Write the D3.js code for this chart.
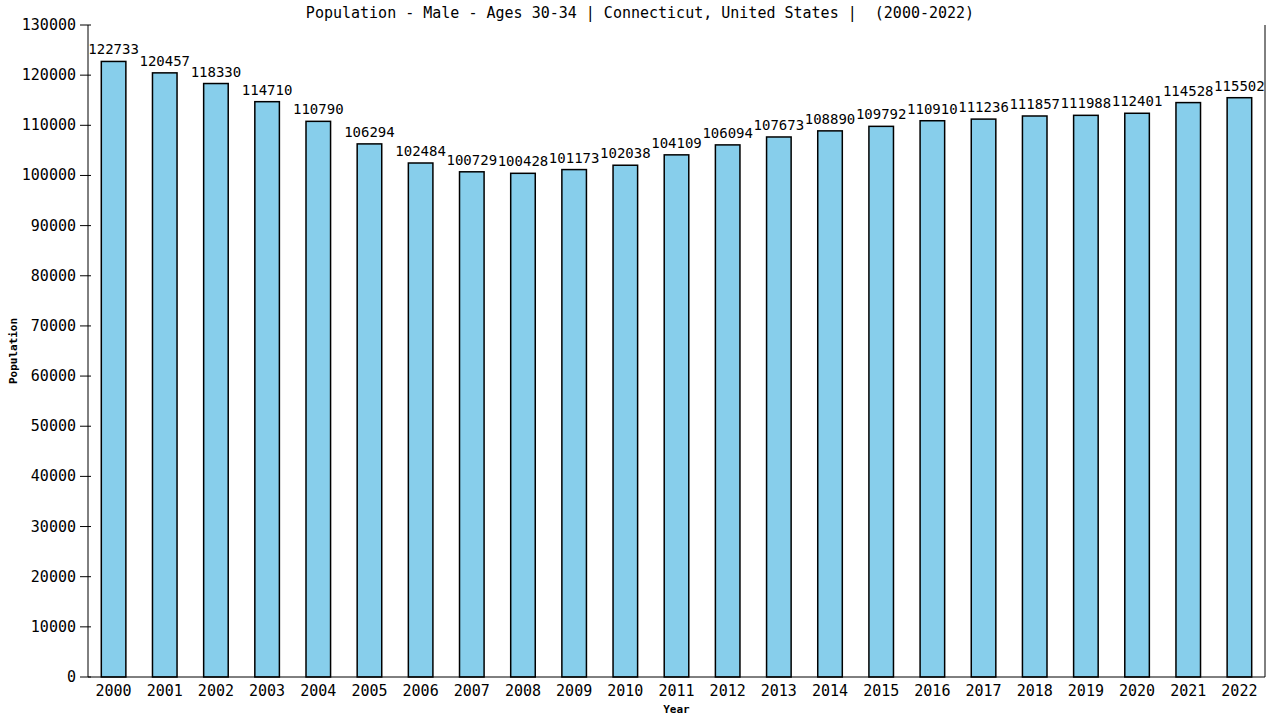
<!DOCTYPE html>
<html>
<head>
<meta charset="utf-8">
<script src="https://cdn.jsdelivr.net/npm/d3@7"></script>
<style>
  body { margin: 0; background: #fff; }
  text { font-family: "DejaVu Sans Mono", monospace; fill: #000; white-space: pre; }
</style>
</head>
<body>
<div id="chart"></div>
<script>
const years = ["2000", "2001", "2002", "2003", "2004", "2005", "2006", "2007", "2008", "2009", "2010", "2011",
  "2012", "2013", "2014", "2015", "2016", "2017", "2018", "2019", "2020", "2021", "2022"];
const population = [122733, 120457, 118330, 114710, 110790, 106294, 102484, 100729, 100428, 101173, 102038, 104109,
  106094, 107673, 108890, 109792, 110910, 111236, 111857, 111988, 112401, 114528, 115502];
const yTicks = d3.range(0, 130001, 10000);

const width = 1280, height = 720;
const margin = { top: 25, right: 15, bottom: 43, left: 88 };

const svg = d3.select("#chart").append("svg")
  .attr("width", width)
  .attr("height", height);

const x = d3.scaleBand()
  .domain(years)
  .range([margin.left, width - margin.right])
  .paddingInner(0.52)
  .paddingOuter(0.26);

const y = d3.scaleLinear()
  .domain([0, 130000])
  .range([height - margin.bottom, margin.top]);

// bars
svg.selectAll("rect.bar")
  .data(population)
  .enter()
  .append("rect")
  .attr("class", "bar")
  .attr("x", (d, i) => x(years[i]))
  .attr("y", (d) => y(d))
  .attr("width", x.bandwidth())
  .attr("height", (d) => y(0) - y(d))
  .style("fill", "#87CEEB")
  .style("stroke", "#000")
  .style("stroke-width", 1.5);

// value labels
svg.selectAll("text.val")
  .data(population)
  .enter()
  .append("text")
  .attr("class", "val")
  .attr("x", (d, i) => x(years[i]) + x.bandwidth() / 2)
  .attr("y", (d) => y(d) - 7)
  .attr("text-anchor", "middle")
  .style("font-size", "14px")
  .text((d) => d);

// y axis
const yAxis = svg.append("g");
yAxis.append("line")
  .attr("x1", margin.left).attr("x2", margin.left)
  .attr("y1", y(130000)).attr("y2", y(0))
  .style("stroke", "#000");
yAxis.selectAll("line.tick")
  .data(yTicks)
  .enter()
  .append("line")
  .attr("class", "tick")
  .attr("x1", margin.left - 8).attr("x2", margin.left + 3)
  .attr("y1", (d) => y(d)).attr("y2", (d) => y(d))
  .style("stroke", "#000");
yAxis.selectAll("text")
  .data(yTicks)
  .enter()
  .append("text")
  .attr("x", margin.left - 12)
  .attr("y", (d) => y(d) + 5)
  .attr("text-anchor", "end")
  .style("font-size", "15px")
  .text((d) => d);

// x axis + right border
svg.append("line")
  .attr("x1", margin.left).attr("x2", width - margin.right)
  .attr("y1", y(0)).attr("y2", y(0))
  .style("stroke", "#000");
svg.append("line")
  .attr("x1", width - margin.right).attr("x2", width - margin.right)
  .attr("y1", y(130000)).attr("y2", y(0))
  .style("stroke", "#000");

svg.selectAll("text.year")
  .data(years)
  .enter()
  .append("text")
  .attr("class", "year")
  .attr("x", (d) => x(d) + x.bandwidth() / 2)
  .attr("y", y(0) + 19)
  .attr("text-anchor", "middle")
  .style("font-size", "15px")
  .text((d) => d);

// titles
svg.append("text")
  .attr("x", width / 2)
  .attr("y", 18)
  .attr("text-anchor", "middle")
  .style("font-size", "15px")
  .text("Population - Male - Ages 30-34 | Connecticut, United States |  (2000-2022)");

svg.append("text")
  .attr("x", (margin.left + width - margin.right) / 2)
  .attr("y", 713)
  .attr("text-anchor", "middle")
  .style("font-size", "11px")
  .style("font-weight", "bold")
  .text("Year");

svg.append("text")
  .attr("transform", "translate(17," + (height - margin.bottom + margin.top) / 2 + ") rotate(-90)")
  .attr("text-anchor", "middle")
  .style("font-size", "11px")
  .style("font-weight", "bold")
  .text("Population");
</script>
</body>
</html>
